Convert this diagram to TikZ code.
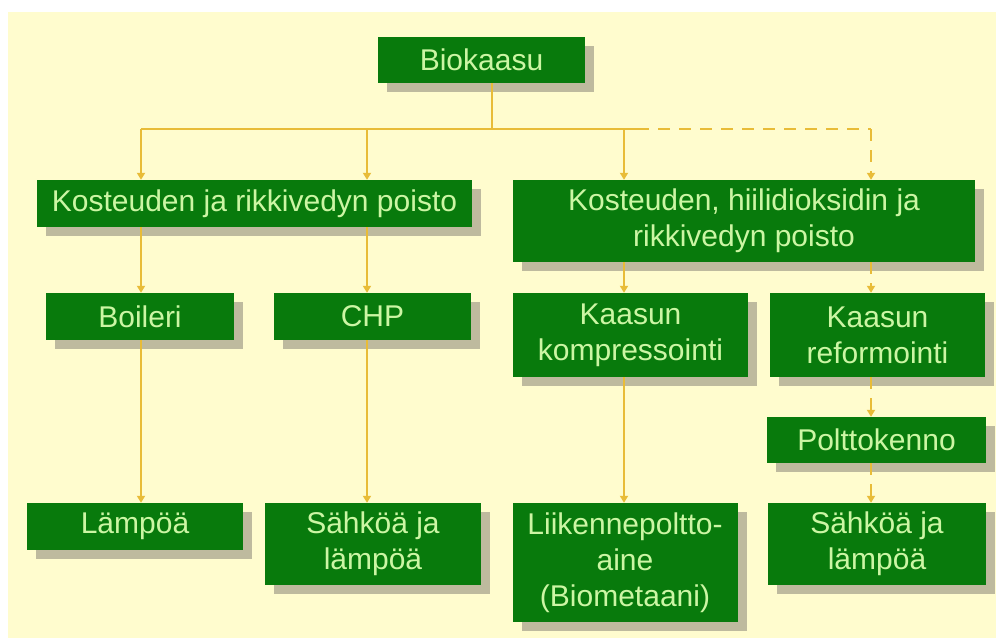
\documentclass[tikz,border=0pt]{standalone}
\usepackage{fontspec}
\setmainfont{Liberation Sans}
\usetikzlibrary{arrows.meta,shadows}

\definecolor{paper}{RGB}{255,252,206}
\definecolor{boxgreen}{RGB}{8,122,12}
\definecolor{labelgreen}{RGB}{204,246,164}
\definecolor{linkgold}{RGB}{232,188,56}
\definecolor{shade}{RGB}{190,186,158}

\newcommand{\boxfont}{\fontsize{30}{36}\selectfont}

\tikzset{
  stagebox/.style={rectangle, fill=boxgreen, text=labelgreen, inner sep=0pt,
    align=center, font=\boxfont,
    drop shadow={shadow xshift=9pt, shadow yshift=-9pt, fill=shade, opacity=1}},
  link/.style={draw=linkgold, line width=2.8pt},
  flow/.style={link, -{Triangle[width=8pt,length=7pt]}},
  maybe/.style={dash pattern=on 12pt off 9pt},
}

\begin{document}
\begin{tikzpicture}[x=1pt, y=-1pt]
  % page and cream sheet
  \fill[white] (0,0) rectangle (996,638);
  \fill[paper] (8,12) rectangle (996,638);
  \useasboundingbox (0,0) rectangle (996,638);

  % boxes
  \node[stagebox, minimum width=207pt, minimum height=46pt] (bio)  at (481.5,60)  {Biokaasu};
  \node[stagebox, minimum width=435pt, minimum height=47pt] (k1)   at (254.5,203.5) {Kosteuden ja rikkivedyn poisto};
  \node[stagebox, minimum width=462pt, minimum height=82pt] (k2)   at (744,221)   {Kosteuden, hiilidioksidin ja\\rikkivedyn poisto};
  \node[stagebox, minimum width=188pt, minimum height=47pt] (boil) at (140,316.5) {Boileri};
  \node[stagebox, minimum width=197pt, minimum height=47pt] (chp)  at (372.5,316.5) {CHP};
  \node[stagebox, minimum width=235pt, minimum height=84pt] (komp) at (630.5,335) {Kaasun\\kompressointi};
  \node[stagebox, minimum width=215pt, minimum height=84pt] (refo) at (877.5,335) {Kaasun\\reformointi};
  \node[stagebox, minimum width=219pt, minimum height=46pt] (polt) at (876.5,440) {Polttokenno};
  \node[stagebox, minimum width=216pt, minimum height=47pt] (lamp) at (135,526.5) {Lämpöä};
  \node[stagebox, minimum width=216pt, minimum height=82pt] (sah1) at (373,544)   {Sähköä ja\\lämpöä};
  \node[stagebox, minimum width=225pt, minimum height=119pt] (liik) at (625,562.5) {Liikennepoltto-\\aine\\(Biometaani)};
  \node[stagebox, minimum width=218pt, minimum height=82pt] (sah2) at (877,544)   {Sähköä ja\\lämpöä};

  % distribution bus
  \coordinate (hub)  at (492,129);
  \coordinate (colA) at (141,129);
  \coordinate (colB) at (367,129);
  \coordinate (colC) at (624,129);
  \coordinate (busM) at (637,129);
  \coordinate (colD) at (871,129);

  \draw[link] (bio.south -| hub) -- (hub);
  \draw[link] (colA) -- (busM);
  \draw[link, maybe] (busM) -- (colD);

  \draw[flow] (colA) -- (colA |- k1.north);
  \draw[flow] (colB) -- (colB |- k1.north);
  \draw[flow] (colC) -- (colC |- k2.north);
  \draw[flow, maybe] (colD) -- (colD |- k2.north);

  \draw[flow] (k1.south -| colA) -- (boil.north -| colA);
  \draw[flow] (k1.south -| colB) -- (chp.north -| colB);
  \draw[flow] (k2.south -| colC) -- (komp.north -| colC);
  \draw[flow, maybe] (k2.south -| colD) -- (refo.north -| colD);

  \draw[flow] (boil.south -| colA) -- (lamp.north -| colA);
  \draw[flow] (chp.south -| colB) -- (sah1.north -| colB);
  \draw[flow] (komp.south -| colC) -- (liik.north -| colC);
  \draw[flow, maybe] (refo.south -| colD) -- (polt.north -| colD);
  \draw[flow, maybe] (polt.south -| colD) -- (sah2.north -| colD);
\end{tikzpicture}
\end{document}
